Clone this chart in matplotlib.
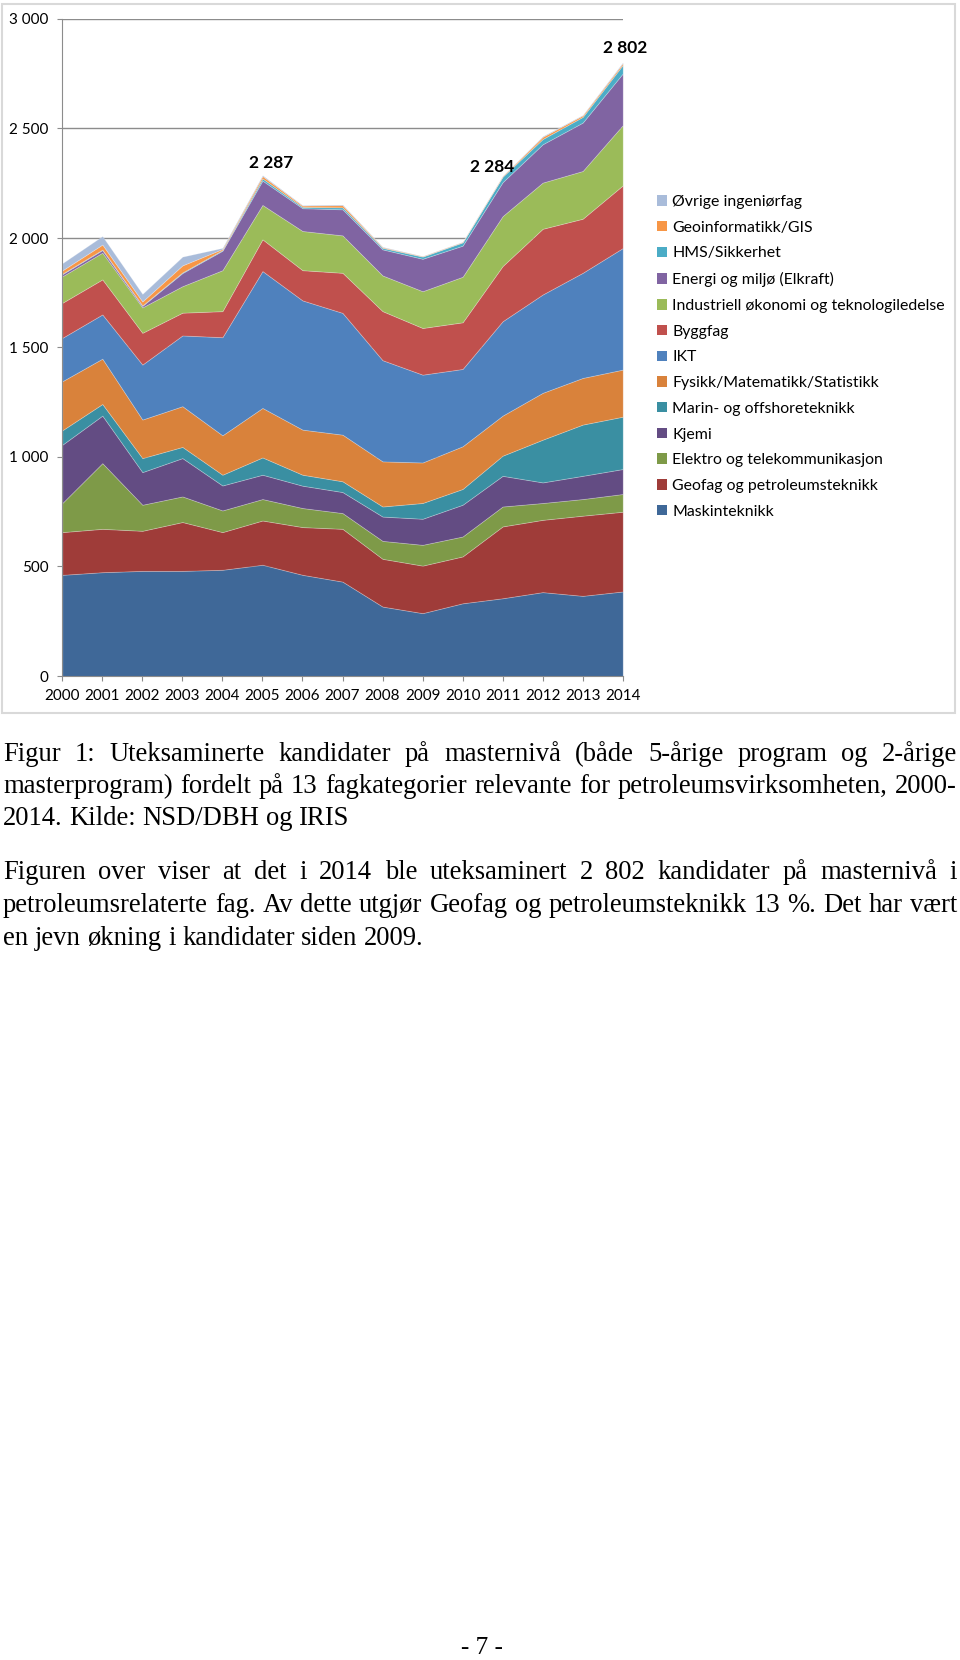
import matplotlib
matplotlib.use("Agg")
import matplotlib.pyplot as plt
from matplotlib.patches import Patch, Rectangle

# data (stacked, bottom to top)
years = list(range(2000, 2015))
maskinteknikk = [462, 474, 480, 480, 485, 508, 462, 431, 317, 287, 332, 355, 383, 366, 386]
geofag = [195, 198, 183, 223, 172, 202, 218, 241, 218, 217, 214, 328, 330, 366, 364]
elektro = [133, 300, 119, 117, 99, 98, 87, 72, 82, 95, 91, 91, 77, 76, 81]
kjemi = [266, 217, 149, 175, 114, 111, 102, 96, 111, 119, 145, 140, 94, 106, 114]
marin = [66, 53, 64, 51, 49, 79, 50, 49, 46, 72, 72, 92, 195, 234, 239]
fysikk = [224, 207, 176, 186, 180, 226, 206, 213, 206, 185, 195, 183, 214, 213, 215]
ikt = [198, 202, 251, 323, 448, 625, 590, 556, 462, 401, 353, 431, 449, 480, 555]
byggfag = [160, 160, 145, 104, 119, 145, 138, 183, 224, 213, 213, 252, 300, 247, 286]
industriell = [121, 122, 116, 121, 187, 157, 179, 171, 163, 168, 208, 228, 211, 218, 275]
energi = [10, 12, 7, 60, 89, 111, 104, 119, 119, 148, 142, 155, 175, 221, 236]
hms = [2, 2, 2, 3, 3, 10, 6, 9, 7, 10, 15, 25, 24, 26, 39]
geoinformatikk = [15, 23, 18, 32, 5, 11, 6, 10, 3, 2, 2, 3, 10, 7, 8]
ovrige = [33, 39, 35, 40, 5, 4, 2, 3, 2, 1, 1, 1, 3, 2, 4]

labels = ["Maskinteknikk", "Geofag og petroleumsteknikk", "Elektro og telekommunikasjon",
          "Kjemi", "Marin- og offshoreteknikk", "Fysikk/Matematikk/Statistikk", "IKT",
          "Byggfag", "Industriell økonomi og teknologiledelse", "Energi og miljø (Elkraft)",
          "HMS/Sikkerhet", "Geoinformatikk/GIS", "Øvrige ingeniørfag"]
series = [maskinteknikk, geofag, elektro, kjemi, marin, fysikk, ikt, byggfag,
          industriell, energi, hms, geoinformatikk, ovrige]
colors = ["#3F6898", "#9F3C39", "#7E9A48", "#634C83", "#3A8FA2", "#D9823B", "#4F81BD",
          "#C0504D", "#9BBB59", "#8064A2", "#4BACC6", "#F79646", "#A9BCDA"]
yticks = [0, 500, 1000, 1500, 2000, 2500, 3000]
labelled_years = [2005, 2011, 2014]

caption = [
    "Figur 1: Uteksaminerte kandidater på masternivå (både 5-årige program og 2-årige",
    "masterprogram) fordelt på 13 fagkategorier relevante for petroleumsvirksomheten, 2000-",
    "2014. Kilde: NSD/DBH og IRIS",
]
paragraph = [
    "Figuren over viser at det i 2014 ble uteksaminert 2 802 kandidater på masternivå i",
    "petroleumsrelaterte fag. Av dette utgjør Geofag og petroleumsteknikk 13 %. Det har vært",
    "en jevn økning i kandidater siden 2009.",
]

W, H = 960, 1660
fig = plt.figure(figsize=(W / 100, H / 100), dpi=100)
fig.patch.set_facecolor("white")

# grey frame around the chart
fig.add_artist(Rectangle((2 / W, 1 - 713 / H), 953 / W, 709 / H, transform=fig.transFigure,
                         fill=False, edgecolor="#D9D9D9", lw=1.5))

ax = fig.add_axes([62.3 / W, 1 - 676 / H, 560.4 / W, 657 / H])
polys = ax.stackplot(years, *series, colors=colors, labels=labels)
for p in polys:
    p.set_edgecolor((1, 1, 1, 0.25))
    p.set_linewidth(0.6)
ax.set_xlim(2000, 2014)
ax.set_ylim(0, 3000)
ax.set_xticks(years)
ax.set_yticks(yticks)
ax.set_yticklabels([f"{v:,}".replace(",", " ") for v in yticks])
ax.set_axisbelow(True)
ax.yaxis.grid(True, color="#8C8C8C", lw=1)
for s in ["top", "right"]:
    ax.spines[s].set_visible(False)
for s in ["left", "bottom"]:
    ax.spines[s].set_color("#8C8C8C")
ax.tick_params(axis="both", length=3.6, color="#8C8C8C", labelsize=11)
ax.tick_params(axis="y", pad=6.5)
ax.tick_params(axis="x", pad=5.5)
for t in ax.get_xticklabels() + ax.get_yticklabels():
    t.set_family("Lato")

totals = [sum(v) for v in zip(*series)]
offsets = {2005: (6.5, 8.5), 2011: (-7.5, 6.5), 2014: (1.5, 10.5)}
for yr in labelled_years:
    tot = totals[years.index(yr)]
    ax.annotate(f"{tot:,}".replace(",", " "), (yr, tot), xytext=offsets[yr],
                textcoords="offset points", ha="center", va="center",
                fontsize=12.5, fontweight="bold", family="Lato", annotation_clip=False)

handles = [Patch(facecolor=c, edgecolor="none") for c in colors][::-1]
fig.legend(handles, labels[::-1], loc="upper left", bbox_to_anchor=(657 / W, 1 - 195 / H),
           frameon=False, borderaxespad=0, borderpad=0, handlelength=0.64, handleheight=0.64,
           handletextpad=0.33, labelspacing=0.74, prop={"family": "Lato", "size": 11.4})

# justified text below the chart
renderer = fig.canvas.get_renderer()
left, right = 3, 957


def width_of(s, size):
    t = fig.text(0, 0, s, fontsize=size, family="Liberation Serif")
    w = t.get_window_extent(renderer).width
    t.remove()
    return w


full_lines = caption[:2] + paragraph[:2]
base = 10
size = base * (right - left) / max(width_of(s, base) for s in full_lines) * 0.995
space = width_of("a a", size) - width_of("aa", size)


def put_line(line, y_px, justify):
    words = line.split(" ")
    texts = [fig.text(0, 1 - y_px / H, w, fontsize=size, family="Liberation Serif",
                      va="baseline") for w in words]
    widths = [t.get_window_extent(renderer).width for t in texts]
    gap = (right - left - sum(widths)) / (len(words) - 1) if justify else space
    x = left
    for t, w in zip(texts, widths):
        t.set_x(x / W)
        x += w + gap


for i, line in enumerate(caption):
    put_line(line, 761 + i * 32, i < 2)
for i, line in enumerate(paragraph):
    put_line(line, 879 + i * 33, i < 2)

fig.text(482 / W, 1 - 1654 / H, "- 7 -", fontsize=size * 0.95, family="Liberation Serif",
         ha="center", va="baseline")

fig.savefig("out.png", dpi=100)
